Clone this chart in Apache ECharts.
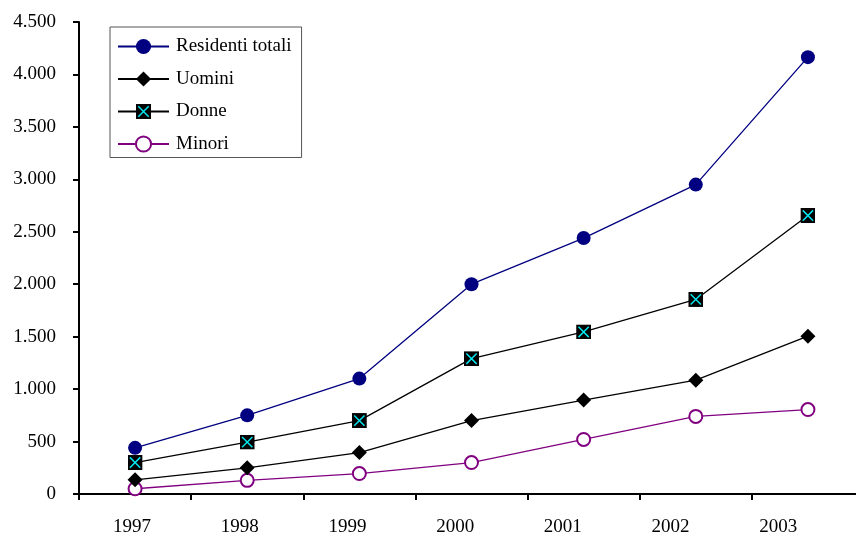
<!DOCTYPE html>
<html>
<head>
<meta charset="utf-8">
<script src="https://cdn.jsdelivr.net/npm/echarts@6/dist/echarts.min.js"></script>
<style>
  html, body { margin: 0; padding: 0; background: #fff; }
  #chart { width: 856px; height: 535px; }
</style>
</head>
<body>
<div id="chart"></div>
<script>
// Popolazione residente per anno
const anni = ['1997', '1998', '1999', '2000', '2001', '2002', '2003'];
const residentiTotali = [440, 750, 1100, 2000, 2440, 2950, 4165];
const uomini = [135, 250, 395, 700, 895, 1085, 1505];
const donne = [300, 495, 700, 1290, 1545, 1855, 2655];
const minori = [50, 130, 195, 300, 520, 740, 805];

const FONT = 'Liberation Serif';
const FONT_SIZE = 19;

// black square crossed by a cyan X
const donneSvg = '<svg xmlns="http://www.w3.org/2000/svg" width="16" height="16" viewBox="0 0 16 16">' +
  '<rect x="0" y="0" width="16" height="16" fill="#000"/>' +
  '<path d="M2.5 2.5 L13.5 13.5 M13.5 2.5 L2.5 13.5" stroke="#00e5ee" stroke-width="1.6" fill="none"/>' +
  '</svg>';
const donneSymbol = 'image://data:image/svg+xml;charset=utf-8,' + encodeURIComponent(donneSvg);

function thousands(v) {
  return String(v).replace(/\B(?=(\d{3})+(?!\d))/g, '.');
}

// year labels sit a little left of their slot, drifting further left along the axis
const yearRich = {};
anni.forEach(function (_, i) {
  const shift = 3 + 4.45 * i;
  yearRich['y' + i] = {
    fontFamily: FONT, fontSize: FONT_SIZE, color: '#000',
    padding: [0, 2 * shift, 0, 0]
  };
});

const chart = echarts.init(document.getElementById('chart'), null, { renderer: 'canvas' });

chart.setOption({
  animation: false,
  backgroundColor: '#fff',
  textStyle: { fontFamily: FONT },
  grid: { left: 79, width: 785, top: 22, bottom: 41, containLabel: false, outerBoundsMode: 'none' },
  legend: {
    orient: 'vertical',
    left: 110,
    top: 27,
    padding: [10, 10, 4, 7],
    itemWidth: 51,
    itemHeight: 19,
    itemGap: 13.5,
    borderColor: '#555',
    borderWidth: 1,
    textStyle: { fontFamily: FONT, fontSize: FONT_SIZE, lineHeight: 19, color: '#000', padding: [0, 0, 0, 2] },
    data: ['Residenti totali', 'Uomini', 'Donne', 'Minori']
  },
  xAxis: {
    type: 'category',
    data: anni,
    boundaryGap: true,
    axisLine: { lineStyle: { color: '#000', width: 2 } },
    axisTick: { show: true, length: 6, lineStyle: { color: '#000', width: 2 } },
    axisLabel: {
      color: '#000', fontFamily: FONT, fontSize: FONT_SIZE, margin: 24,
      formatter: function (value, index) { return '{y' + index + '|' + value + '}'; },
      rich: yearRich
    },
    splitLine: { show: false }
  },
  yAxis: {
    type: 'value',
    min: 0,
    max: 4500,
    interval: 500,
    axisLine: { show: true, lineStyle: { color: '#000', width: 2 } },
    axisTick: { show: true, length: 6, lineStyle: { color: '#000', width: 2 } },
    axisLabel: { color: '#000', fontFamily: FONT, fontSize: FONT_SIZE, margin: 23, formatter: thousands },
    splitLine: { show: false }
  },
  series: [
    {
      name: 'Residenti totali',
      type: 'line',
      data: residentiTotali,
      symbol: 'circle',
      symbolSize: 14,
      color: '#000080',
      lineStyle: { color: '#000080', width: 1.3 },
      itemStyle: { color: '#000080' },
      z: 4
    },
    {
      name: 'Uomini',
      type: 'line',
      data: uomini,
      symbol: 'diamond',
      symbolSize: 15,
      color: '#000',
      lineStyle: { color: '#000', width: 1.3 },
      itemStyle: { color: '#000' },
      z: 3
    },
    {
      name: 'Donne',
      type: 'line',
      data: donne,
      symbol: donneSymbol,
      symbolSize: 15,
      color: '#000',
      lineStyle: { color: '#000', width: 1.3 },
      itemStyle: { color: '#000' },
      z: 3
    },
    {
      name: 'Minori',
      type: 'line',
      data: minori,
      symbol: 'emptyCircle',
      symbolSize: 13,
      color: '#800080',
      lineStyle: { color: '#800080', width: 1.3 },
      itemStyle: { color: '#800080', borderColor: '#800080', borderWidth: 1.3 },
      z: 2
    }
  ]
});
</script>
</body>
</html>
